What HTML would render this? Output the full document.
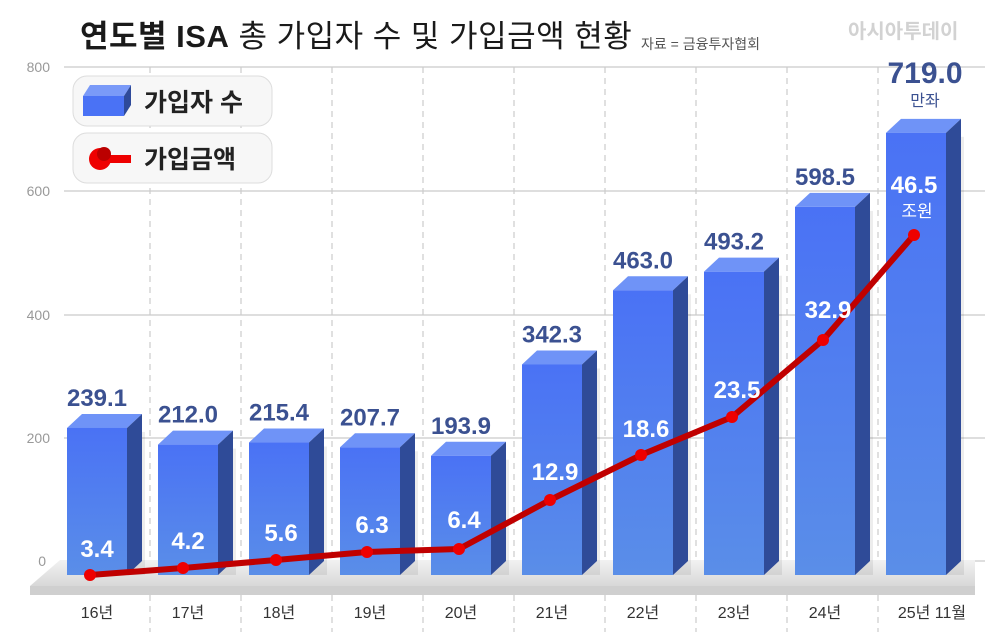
<!DOCTYPE html>
<html><head><meta charset="utf-8"><style>
body{margin:0;background:#fff}
svg{display:block;font-family:"Liberation Sans","Noto Sans CJK KR",sans-serif}
</style></head><body>
<svg width="1000" height="640" viewBox="0 0 1000 640" xmlns="http://www.w3.org/2000/svg">
<defs>
<linearGradient id="fr" x1="0" y1="0" x2="0" y2="1"><stop offset="0" stop-color="#4a72f5"/><stop offset="1" stop-color="#5a8ee8"/></linearGradient>
<linearGradient id="fl" x1="0" y1="0" x2="0" y2="1"><stop offset="0" stop-color="#f2f2f2"/><stop offset="1" stop-color="#d8d8d8"/></linearGradient>
</defs>
<rect width="1000" height="640" fill="#fff"/>
<text x="80" y="47" font-size="31" fill="#1a1a1a" letter-spacing="0.5"><tspan font-weight="bold">연도별 ISA</tspan> 총 가입자 수 및 가입금액 현황</text>
<text x="641" y="49" font-size="14" fill="#555">자료 = 금융투자협회</text>
<text x="848" y="38" font-size="20" font-weight="bold" fill="#d2d2d2">아시아투데이</text>
<g stroke="#d4d4d4" stroke-width="1.5">
<line x1="64" y1="67" x2="985" y2="67"/><line x1="64" y1="191" x2="985" y2="191"/><line x1="64" y1="315" x2="985" y2="315"/><line x1="64" y1="438" x2="985" y2="438"/><line x1="64" y1="561" x2="985" y2="561"/>
</g>
<g stroke="#ccc" stroke-width="1.2" stroke-dasharray="6,5">
<line x1="150" y1="67" x2="150" y2="632"/><line x1="241" y1="67" x2="241" y2="632"/><line x1="332" y1="67" x2="332" y2="632"/><line x1="423" y1="67" x2="423" y2="632"/><line x1="514" y1="67" x2="514" y2="632"/><line x1="605" y1="67" x2="605" y2="632"/><line x1="696" y1="67" x2="696" y2="632"/><line x1="787" y1="67" x2="787" y2="632"/><line x1="878" y1="67" x2="878" y2="632"/>
</g>
<g font-size="14" fill="#999" text-anchor="end"><text x="50" y="72">800</text><text x="50" y="196">600</text><text x="50" y="320">400</text><text x="50" y="443">200</text><text x="46" y="566">0</text></g>
<polygon points="60,560 975,560 975,586 30,586" fill="url(#fl)"/>
<rect x="30" y="586" width="945" height="9" fill="#cfcfcf"/>
<g id="bars"></g>
<g font-size="16" fill="#333" text-anchor="middle">
<text x="97" y="618">16년</text><text x="188" y="618">17년</text><text x="279" y="618">18년</text><text x="370" y="618">19년</text><text x="461" y="618">20년</text><text x="552" y="618">21년</text><text x="643" y="618">22년</text><text x="734" y="618">23년</text><text x="825" y="618">24년</text><text x="932" y="618">25년 11월</text>
</g>
<rect x="73" y="76" width="199" height="50" rx="14" fill="#f7f7f7" stroke="#ddd"/>
<rect x="73" y="133" width="199" height="50" rx="14" fill="#f7f7f7" stroke="#ddd"/>
<polygon points="83,96 90,85 131,85 124,96" fill="#7a9af8"/><rect x="83" y="96" width="41" height="20" fill="#4a72f5"/><polygon points="124,96 131,85 131,105 124,116" fill="#2e4a9a"/>
<rect x="105" y="155" width="26" height="8" fill="#e00"/><circle cx="100" cy="159" r="11" fill="#e00"/><circle cx="104" cy="154" r="7" fill="#b00"/>
<text x="144" y="111" font-size="25" font-weight="bold" fill="#222">가입자 수</text>
<text x="144" y="168" font-size="25" font-weight="bold" fill="#222">가입금액</text>
</svg>
<script>
var vals=[239.1,212.0,215.4,207.7,193.9,342.3,463.0,493.2,598.5,719.0];
var g=document.getElementById('bars'),h='';
var pts=[[90,575],[183,568],[276,560],[367,552],[459,549],[550,500],[641,455],[732,417],[823,340],[914,235]];
var amt=['3.4','4.2','5.6','6.3','6.4','12.9','18.6','23.5','32.9','46.5'];
for(var i=0;i<10;i++){var x=67+91*i,t=575-0.615*vals[i];
h+='<rect x="'+(x+6)+'" y="'+(t+4)+'" width="72" height="'+(571-t)+'" fill="#000" opacity="0.07"/>';
h+='<polygon points="'+x+','+t+' '+(x+15)+','+(t-14)+' '+(x+75)+','+(t-14)+' '+(x+60)+','+t+'" fill="#6f93f7"/>';
h+='<polygon points="'+(x+60)+','+t+' '+(x+75)+','+(t-14)+' '+(x+75)+','+561+' '+(x+60)+',575" fill="#2f4b98"/>';
h+='<rect x="'+x+'" y="'+t+'" width="60" height="'+(575-t)+'" fill="url(#fr)"/>';
var cx=i==9?925:x+30;
h+='<text x="'+cx+'" y="'+(i==9?83:t-22)+'" font-size="'+(i==9?30:24)+'" font-weight="bold" fill="#3b5191" text-anchor="middle">'+vals[i].toFixed(1)+'</text>';}
h+='<text x="925" y="106" font-size="16" fill="#3b5191" text-anchor="middle">만좌</text>';
var d='M'+pts.map(function(p){return p.join(',')}).join(' L');
h+='<path d="'+d+'" fill="none" stroke="#c00000" stroke-width="6" stroke-linejoin="round"/>';
pts.forEach(function(p,i){h+='<circle cx="'+p[0]+'" cy="'+p[1]+'" r="6" fill="#e00"/>';
var ly=[557,549,541,533,528,480,437,398,318,193][i];
h+='<text x="'+(i==0?97:p[0]+5*(i<9?1:0))+'" y="'+ly+'" font-size="24" font-weight="bold" fill="#fff" text-anchor="middle">'+amt[i]+'</text>';});
h+='<text x="917" y="217" font-size="17" fill="#fff" text-anchor="middle">조원</text>';
g.innerHTML=h;
</script>
</body></html>
